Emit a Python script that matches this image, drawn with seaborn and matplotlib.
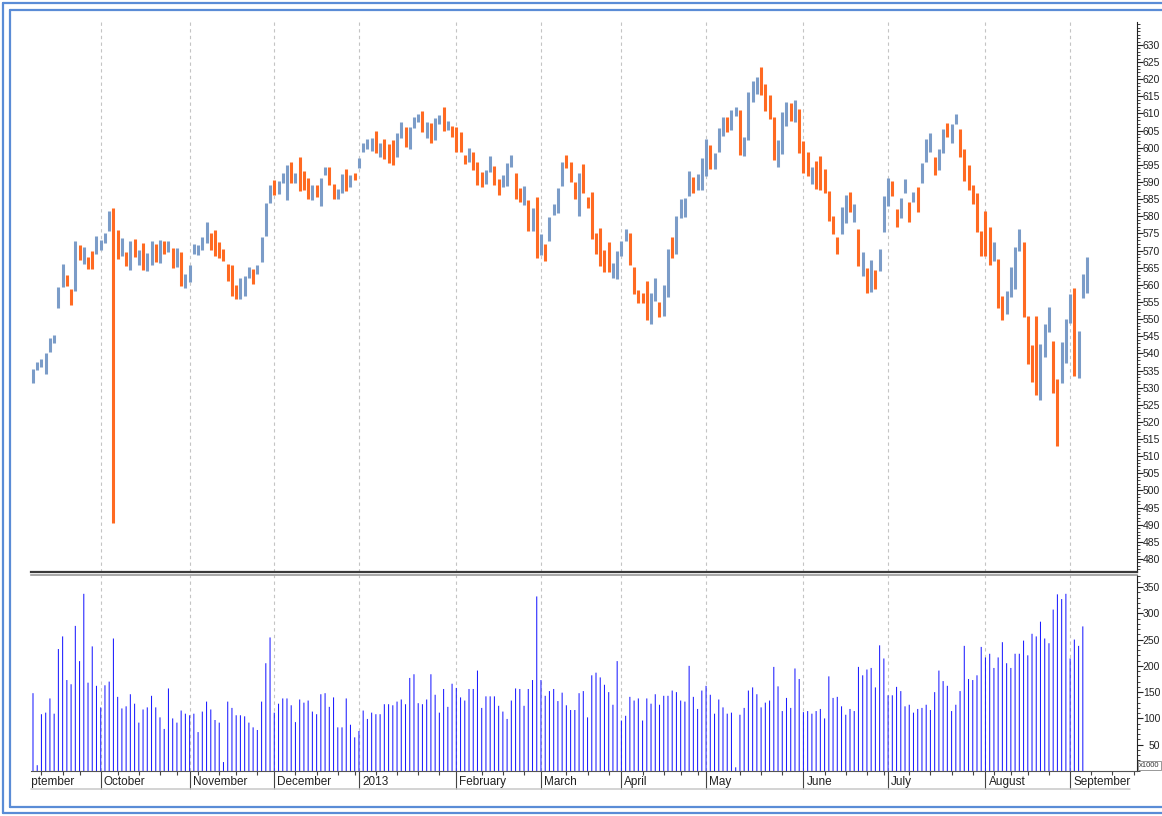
import numpy as np
import pandas as pd
import seaborn as sns
import matplotlib.pyplot as plt
import matplotlib.transforms as mtransforms
from matplotlib.lines import Line2D
from matplotlib.ticker import FixedLocator, MultipleLocator

# daily candle bodies, Sep 2012 - Sep 2013 (one entry per trading day)
opens = [
    531.4, 535.2, 536.0, 534.0, 540.4, 543.0, 553.2, 559.4, 562.9, 558.8,
    558.2, 571.6, 566.1, 568.1, 569.9, 569.0, 570.2, 572.2, 575.7, 582.4,
    576.0, 568.4, 569.6, 564.3, 573.4, 565.8, 572.2, 564.0, 565.8, 571.9,
    566.4, 572.8, 569.6, 570.8, 565.2, 569.6, 559.1, 560.8, 569.0, 568.7,
    570.2, 572.2, 575.1, 576.0, 572.5, 570.5, 566.1, 565.8, 559.9, 555.9,
    556.7, 562.0, 564.6, 563.2, 566.7, 574.3, 583.9, 590.6, 586.5, 589.7,
    584.8, 595.9, 589.7, 597.3, 593.2, 591.2, 584.8, 589.1, 583.0, 592.1,
    594.4, 589.4, 585.0, 586.8, 593.8, 588.6, 592.6, 594.1, 598.8, 599.6,
    599.1, 604.9, 597.3, 602.6, 601.1, 602.3, 597.3, 602.9, 606.1, 599.6,
    605.8, 607.5, 610.7, 602.9, 607.2, 602.3, 606.9, 611.9, 605.2, 606.4,
    606.1, 604.6, 597.9, 595.9, 598.8, 595.9, 592.9, 589.4, 592.9, 594.7,
    590.9, 588.6, 588.9, 594.4, 592.6, 588.3, 583.3, 584.8, 575.7, 585.6,
    568.7, 571.9, 572.8, 580.4, 581.0, 588.9, 597.9, 595.9, 590.0, 580.1,
    595.3, 585.6, 587.1, 575.1, 576.6, 570.2, 572.5, 562.0, 561.7, 568.4,
    572.8, 575.1, 565.2, 558.5, 557.6, 561.1, 548.6, 555.3, 555.0, 550.9,
    556.5, 574.0, 569.0, 579.5, 579.8, 585.9, 591.5, 587.7, 587.7, 591.8,
    600.8, 593.8, 598.8, 603.4, 609.0, 605.2, 609.3, 611.0, 597.6, 602.3,
    613.4, 615.7, 623.6, 618.6, 615.4, 609.0, 594.4, 598.2, 606.4, 613.1,
    607.5, 611.3, 602.0, 598.8, 589.4, 596.1, 597.6, 593.8, 587.4, 580.1,
    574.0, 574.8, 578.1, 587.1, 578.3, 576.3, 562.6, 564.9, 557.9, 564.3,
    564.0, 575.4, 583.0, 590.3, 582.1, 579.5, 586.8, 584.2, 584.2, 588.6,
    589.7, 595.9, 598.8, 597.3, 593.5, 598.5, 607.2, 601.4, 606.9, 605.5,
    599.6, 595.0, 589.1, 586.8, 575.7, 581.6, 576.9, 566.9, 567.5, 556.7,
    551.5, 556.5, 558.8, 569.9, 572.5, 550.9, 542.4, 550.9, 526.4, 538.9,
    546.2, 543.6, 532.5, 531.4, 537.2, 548.9, 559.1, 532.9, 556.2, 557.6,
]
closes = [
    535.4, 537.5, 538.4, 540.1, 544.5, 545.4, 559.4, 566.1, 559.7, 554.1,
    572.8, 567.3, 571.0, 564.6, 564.6, 574.3, 573.1, 575.1, 581.5, 490.5,
    567.5, 573.7, 565.5, 572.8, 568.1, 570.2, 564.3, 569.3, 572.8, 566.7,
    573.1, 569.0, 572.8, 564.9, 570.8, 559.7, 563.2, 565.8, 571.9, 571.6,
    574.0, 578.3, 570.2, 568.4, 567.8, 566.9, 561.1, 556.7, 555.9, 562.0,
    562.6, 565.2, 560.3, 565.8, 574.0, 583.9, 589.1, 586.2, 590.3, 592.6,
    595.0, 589.7, 592.6, 587.4, 587.7, 585.0, 589.1, 585.6, 591.2, 594.4,
    589.1, 585.0, 588.0, 592.4, 587.4, 592.1, 590.6, 597.0, 601.4, 602.6,
    602.9, 598.5, 601.4, 596.7, 595.6, 595.0, 604.3, 607.5, 600.2, 606.1,
    609.0, 609.9, 604.6, 607.5, 601.4, 608.7, 609.6, 604.9, 607.8, 603.2,
    598.8, 598.8, 595.3, 599.9, 593.5, 589.1, 588.6, 593.5, 597.6, 589.1,
    586.2, 592.1, 595.6, 597.9, 585.0, 584.2, 588.9, 575.7, 582.4, 567.8,
    574.8, 566.9, 579.8, 583.6, 588.3, 595.9, 594.1, 590.0, 585.0, 592.6,
    586.8, 582.4, 573.4, 569.0, 565.5, 563.8, 563.8, 566.4, 569.9, 572.8,
    576.3, 565.8, 557.3, 554.7, 554.7, 549.7, 557.6, 562.0, 550.6, 560.0,
    570.5, 567.8, 580.1, 585.0, 585.3, 593.2, 586.8, 592.4, 597.0, 602.6,
    593.8, 598.5, 605.8, 609.0, 604.6, 611.0, 611.9, 597.9, 603.2, 616.3,
    619.5, 620.6, 615.4, 610.7, 608.4, 596.4, 602.3, 610.4, 613.4, 607.8,
    613.9, 598.5, 592.6, 591.8, 594.4, 588.0, 587.7, 586.8, 578.6, 574.8,
    569.0, 582.7, 586.2, 581.3, 583.6, 565.5, 569.6, 557.6, 567.3, 558.8,
    570.5, 585.9, 591.2, 585.9, 576.9, 585.3, 590.9, 578.3, 587.1, 581.3,
    595.6, 602.6, 604.3, 592.1, 599.6, 605.5, 603.2, 606.9, 609.9, 597.3,
    590.3, 587.7, 583.6, 575.4, 568.4, 568.4, 565.8, 572.5, 553.2, 549.7,
    558.2, 565.2, 571.0, 576.3, 550.6, 536.9, 531.7, 527.9, 542.7, 548.6,
    553.5, 528.4, 513.0, 543.3, 550.0, 557.3, 533.4, 546.5, 563.2, 568.1,
]
# volume in thousands
volume = [
    148, 11, 108, 111, 138, 109, 232, 256, 173, 165,
    276, 209, 337, 168, 237, 162, 121, 163, 170, 252,
    141, 119, 123, 146, 128, 92, 117, 121, 143, 121,
    102, 80, 157, 100, 92, 115, 109, 106, 109, 74,
    113, 132, 117, 97, 92, 17, 132, 120, 106, 106,
    104, 92, 83, 78, 132, 205, 254, 111, 128, 138,
    138, 125, 93, 136, 130, 134, 113, 108, 146, 148,
    122, 140, 83, 83, 138, 88, 64, 76, 115, 99,
    111, 108, 108, 127, 127, 125, 132, 136, 127, 177,
    184, 129, 127, 136, 184, 145, 111, 156, 122, 166,
    158, 140, 134, 156, 156, 191, 120, 142, 142, 142,
    124, 113, 99, 134, 157, 156, 124, 156, 173, 332,
    173, 143, 152, 156, 133, 149, 125, 116, 116, 148,
    152, 102, 182, 187, 178, 164, 150, 126, 209, 96,
    105, 141, 134, 138, 96, 138, 128, 146, 126, 143,
    143, 153, 150, 134, 132, 200, 141, 118, 153, 162,
    145, 109, 136, 121, 109, 111, 7, 107, 120, 153,
    159, 146, 121, 130, 134, 198, 161, 114, 139, 120,
    195, 175, 112, 114, 109, 114, 118, 100, 180, 139,
    141, 123, 107, 118, 114, 198, 182, 193, 196, 159,
    239, 214, 144, 144, 160, 152, 123, 126, 111, 118,
    120, 126, 116, 150, 191, 171, 162, 114, 126, 152,
    238, 175, 173, 182, 236, 216, 223, 196, 216, 245,
    205, 196, 223, 223, 248, 220, 261, 256, 284, 252,
    243, 307, 336, 327, 337, 214, 250, 238, 275, 0,
]

# first trading day of each month (bar index) and its label
month_labels = ["September", "October", "November", "December", "2013", "February",
                "March", "April", "May", "June", "July", "August", "September"]
month_starts = [-4.3, 16, 37, 57, 77, 100, 120, 139, 159, 182, 202, 225, 245]
week_ticks = [2, 7, 11, 20, 25, 30, 34, 39, 44, 48, 53, 62, 67, 72, 76, 81, 86, 91, 96,
              106, 111, 116, 126, 131, 136, 144, 149, 153, 157, 167, 172, 177, 187, 192,
              197, 201, 207, 212, 217, 222, 227, 231, 235, 240, 250, 255, 260]
price_ticks = list(range(480, 631, 5))
volume_ticks = [50, 100, 150, 200, 250, 300, 350]

UP_COLOR = "#7b9cc8"
DOWN_COLOR = "#ff6a22"
VOL_COLOR = "#1c1cff"
GRID_COLOR = "#c4c4c4"
FRAME_COLOR = "#5a8cd6"

W, H = 1162, 816


def px_box(left, top, right, bottom):
    """axes rect in figure fraction from pixel edges (origin top-left)"""
    return [left / W, 1 - bottom / H, (right - left) / W, (bottom - top) / H]


def fig_line(fig, xs, ys, **kw):
    fig.add_artist(Line2D([x / W for x in xs], [1 - y / H for y in ys],
                          transform=fig.transFigure, **kw))


def style_right_axis(ax, major, minor_step, pad_pt=12.2):
    ax.yaxis.tick_right()
    ax.yaxis.set_major_locator(FixedLocator(major))
    ax.yaxis.set_minor_locator(MultipleLocator(minor_step))
    ax.tick_params(axis="y", which="major", direction="out", length=4.5, width=0.8,
                   labelsize=7.5, pad=pad_pt, colors="#222222", right=True, left=False)
    ax.tick_params(axis="y", which="minor", direction="out", length=2.2, width=0.6,
                   right=True, left=False, colors="#222222")
    # labels right-aligned just inside the picture edge
    for lab in ax.get_yticklabels():
        lab.set_horizontalalignment("right")
    ax.set_ylabel("")


sns.set_style("ticks")
plt.rcParams["font.family"] = ["Liberation Sans", "DejaVu Sans"]

fig = plt.figure(figsize=(W / 100, H / 100), dpi=100)
ax_p = fig.add_axes(px_box(31, 22, 1137, 572))
ax_v = fig.add_axes(px_box(31, 575, 1137, 771))

days = np.arange(len(opens))
df = pd.DataFrame({"day": days, "open": opens, "close": closes, "volume": volume})
df["dir"] = np.where(df["close"] >= df["open"], "up", "down")
df["base"] = 0
bodies = df.melt(id_vars=["day", "dir"], value_vars=["open", "close"], value_name="price")
sticks = df.melt(id_vars=["day"], value_vars=["base", "volume"], value_name="vol")

# candle bodies: one vertical segment per day
sns.lineplot(data=bodies, x="day", y="price", units="day", estimator=None, hue="dir",
             palette={"up": UP_COLOR, "down": DOWN_COLOR}, linewidth=2.2,
             solid_capstyle="butt", legend=False, ax=ax_p)

# volume sticks, about 1px wide, left unsnapped so they antialias like the original
sns.lineplot(data=sticks, x="day", y="vol", units="day", estimator=None,
             color=VOL_COLOR, linewidth=0.75, solid_capstyle="butt", snap=False,
             legend=False, ax=ax_v)

xlim = (-0.47, 260.8)
for ax in (ax_p, ax_v):
    ax.set_xlim(*xlim)
    ax.set_xlabel("")
    for m in month_starts:
        ax.axvline(m, color=GRID_COLOR, lw=0.8, ls=(0, (3, 3)), zorder=0)
    ax.spines["left"].set_visible(False)
    ax.spines["right"].set_color("#222222")
    ax.spines["right"].set_linewidth(0.8)

ax_p.set_ylim(476.2, 636.7)
style_right_axis(ax_p, price_ticks, 1)
ax_p.tick_params(axis="x", which="both", bottom=False, labelbottom=False)
ax_p.spines["top"].set_visible(False)
ax_p.spines["bottom"].set_color("#3a3a3a")
ax_p.spines["bottom"].set_linewidth(1.6)

ax_v.set_ylim(0, 372.8)
style_right_axis(ax_v, volume_ticks, 10)
ax_v.spines["top"].set_color("#9a9a9a")
ax_v.spines["top"].set_linewidth(1.2)
ax_v.spines["bottom"].set_color("#555555")
ax_v.xaxis.set_major_locator(FixedLocator(month_starts))
ax_v.xaxis.set_minor_locator(FixedLocator(week_ticks))
ax_v.tick_params(axis="x", which="major", direction="out", length=13, width=0.8,
                 colors="#444444", labelbottom=False, bottom=True)
ax_v.tick_params(axis="x", which="minor", direction="out", length=3, width=0.8,
                 colors="#444444", bottom=True)

# month names sit right of their separator tick, clipped at the chart's left edge
clip = mtransforms.TransformedBbox(mtransforms.Bbox.from_extents(31 / W, 0, 1, 1),
                                   fig.transFigure)
lab_trans = mtransforms.offset_copy(
    mtransforms.blended_transform_factory(ax_v.transData, ax_v.transAxes),
    fig=fig, x=2.2, y=0, units="points")
for m, lab in zip(month_starts, month_labels):
    t = fig.text(m, -11 / 196, lab, transform=lab_trans, ha="left", va="center",
                 fontsize=8.5, color="#222222")
    t.set_clip_box(clip)
    t.set_clip_on(True)

fig_line(fig, [31, 1130], [789, 789], color="#c8c8c8", lw=1.1)

fig.text(1139 / W, 1 - 769 / H, "x1000", fontsize=5.5, color="#333333",
         ha="left", va="bottom",
         bbox=dict(boxstyle="square,pad=0.15", fc="white", ec="#888888", lw=0.6))

# double blue frame, open on the right side
for inset, bottom in ((3, 813), (10, 807)):
    fig_line(fig, [inset, W + 10], [inset, inset], color=FRAME_COLOR, lw=1.6)
    fig_line(fig, [inset, inset], [inset, bottom], color=FRAME_COLOR, lw=1.6)
    fig_line(fig, [inset, W + 10], [bottom, bottom], color=FRAME_COLOR, lw=1.6)

fig.savefig("out.png", dpi=100)
